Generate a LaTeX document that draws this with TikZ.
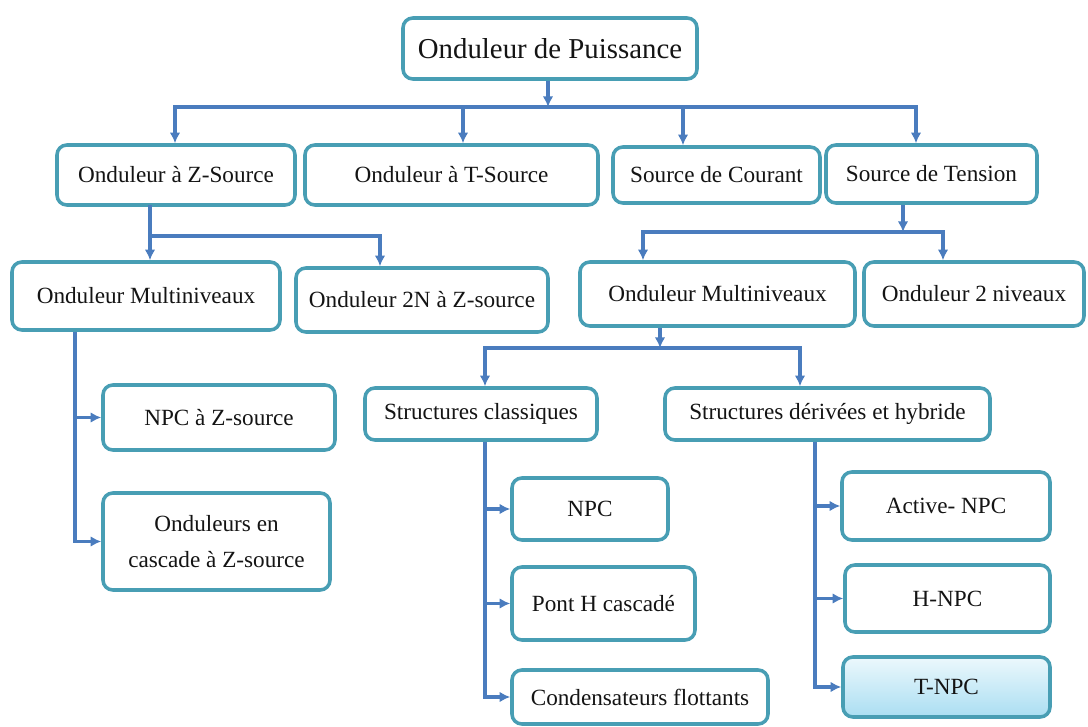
\documentclass[tikz,border=0pt]{standalone}
\usepackage{fontspec}
\setmainfont{Liberation Serif}
\usetikzlibrary{arrows.meta}
\usetikzlibrary{calc}

\definecolor{bordbleu}{RGB}{72,158,180}
\definecolor{flechebleu}{RGB}{74,124,190}
\definecolor{textegris}{RGB}{20,20,20}
\definecolor{cielhaut}{RGB}{236,248,252}
\definecolor{cielbas}{RGB}{170,222,242}

\begin{document}
\begin{tikzpicture}
	[x=0.025cm, y=-0.025cm,
	> = {Latex[length=7.5pt,width=7.5pt]},
	boite/.style = {draw=bordbleu, line width=2.5pt, rounded corners=7pt, fill=white, text=textegris, align=center, inner sep=2pt, font=\fontsize{16.5}{26}\selectfont},
	taille/.style 2 args = {minimum width=#1*0.025cm, minimum height=#2*0.025cm},
	ligne/.style = {draw=flechebleu, line width=2.5pt, line cap=rect},
	fleche/.style = {draw=flechebleu, line width=2.5pt, ->}
	]
	\useasboundingbox (0,0) rectangle (1088,727);

	% boites
	\node[boite, taille={294}{61}, font=\fontsize{20.5}{26}\selectfont] (puis) at (550,48.5) {Onduleur de Puissance};

	\node[boite, taille={238}{60}] (zsrc) at (176,175) {Onduleur à Z-Source};
	\node[boite, taille={293}{60}] (tsrc) at (451.5,175) {Onduleur à T-Source};
	\node[boite, taille={207}{56}] (cour) at (716.5,175) {Source de Courant};
	\node[boite, taille={211}{58}] (tens) at (931.5,174) {Source de Tension};

	\node[boite, taille={268}{68}] (multiG) at (146,296) {Onduleur Multiniveaux};
	\node[boite, taille={252}{64}] (deuxN) at (422,300) {Onduleur 2N à Z-source};
	\node[boite, taille={275}{64}] (multiD) at (717.5,294) {Onduleur Multiniveaux};
	\node[boite, taille={220}{64}] (deuxniv) at (974,294) {Onduleur 2 niveaux};

	\node[boite, taille={232}{65}] (npcz) at (219,417.5) {NPC à Z-source};
	\node[boite, taille={227}{97}] (cascz) at (216.5,541.5) {Onduleurs en\\cascade à Z-source};

	\node[boite, taille={232}{52}] (classiq) at (481,414) {Structures classiques};
	\node[boite, taille={325}{52}] (deriv) at (827.5,414) {Structures dérivées et hybride};

	\node[boite, taille={156}{62}] (npc) at (590,509) {NPC};
	\node[boite, taille={183}{73}] (ponth) at (603.5,603.5) {Pont H cascadé};
	\node[boite, taille={256}{54}] (cond) at (640,697) {Condensateurs flottants};

	\node[boite, taille={208}{68}] (anpc) at (946,506) {Active- NPC};
	\node[boite, taille={205}{67}] (hnpc) at (947.5,598.5) {H-NPC};
	\node[boite, taille={207}{60}, top color=cielhaut, bottom color=cielbas] (tnpc) at (946.5,687) {T-NPC};

	% premier niveau
	\coordinate (b1) at (548,107);
	\coordinate (d1) at (175,107);
	\coordinate (d2) at (463,107);
	\coordinate (d3) at (683,107);
	\coordinate (d4) at (916,107);
	\draw[fleche] (b1 |- puis.south) -- (b1);
	\draw[ligne] (d1) -- (d4);
	\foreach \d/\n in {d1/zsrc, d2/tsrc, d3/cour, d4/tens}
		\draw[fleche] (\d) -- (\d |- \n.north);

	% Z-source
	\coordinate (b2) at (150,236);
	\coordinate (b2b) at (380,236);
	\draw[ligne] (b2 |- zsrc.south) -- (b2) -- (b2b);
	\draw[fleche] (b2) -- (b2 |- multiG.north);
	\draw[fleche] (b2b) -- (b2b |- deuxN.north);

	% source de tension
	\coordinate (b3) at (903,232);
	\coordinate (b3a) at (643,232);
	\coordinate (b3b) at (943,232);
	\draw[fleche] (b3 |- tens.south) -- (b3);
	\draw[ligne] (b3a) -- (b3b);
	\draw[fleche] (b3a) -- (b3a |- multiD.north);
	\draw[fleche] (b3b) -- (b3b |- deuxniv.north);

	% multiniveaux
	\coordinate (b4) at (660,348);
	\coordinate (b4a) at (485,348);
	\coordinate (b4b) at (800,348);
	\draw[fleche] (b4 |- multiD.south) -- (b4);
	\draw[ligne] (b4a) -- (b4b);
	\draw[fleche] (b4a) -- (b4a |- classiq.north);
	\draw[fleche] (b4b) -- (b4b |- deriv.north);

	% branches verticales
	\coordinate (v1) at (75,330);
	\draw[fleche] (v1 |- multiG.south) |- (cascz.west);
	\draw[fleche] (v1 |- npcz.west) -- (npcz.west);

	\coordinate (v2) at (485,440);
	\draw[fleche] (v2 |- classiq.south) |- (cond.west);
	\draw[fleche] (v2 |- npc.west) -- (npc.west);
	\draw[fleche] (v2 |- ponth.west) -- (ponth.west);

	\coordinate (v3) at (815,440);
	\draw[fleche] (v3 |- deriv.south) |- (tnpc.west);
	\draw[fleche] (v3 |- anpc.west) -- (anpc.west);
	\draw[fleche] (v3 |- hnpc.west) -- (hnpc.west);
\end{tikzpicture}
\end{document}
